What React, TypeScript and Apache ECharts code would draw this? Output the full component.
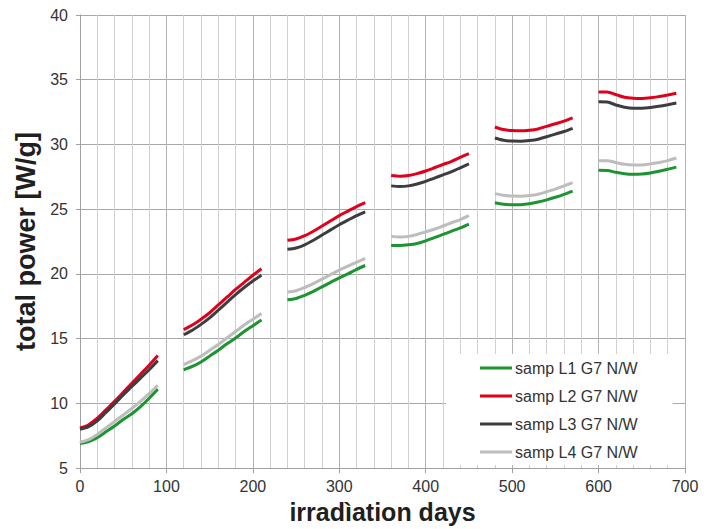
import React, { useEffect, useRef } from "react";
import * as echarts from "echarts";

const segmentStarts = [0, 120, 240, 360, 480, 600];
const segmentOffsets = [0, 10, 20, 30, 40, 50, 60, 70, 80, 90];
const seriesNames = ["samp L1 G7 N/W", "samp L2 G7 N/W", "samp L3 G7 N/W", "samp L4 G7 N/W"];
const seriesColors = ["#1b9431", "#e1001b", "#3d3d3f", "#bdbdbd"];

const L1 = [
  [6.9, 7.05, 7.35, 7.8, 8.25, 8.75, 9.2, 9.75, 10.4, 11.1],
  [12.6, 12.85, 13.2, 13.65, 14.1, 14.6, 15.05, 15.55, 16.0, 16.45],
  [18.0, 18.1, 18.35, 18.65, 19.0, 19.35, 19.7, 20.0, 20.35, 20.65],
  [22.2, 22.2, 22.25, 22.35, 22.55, 22.8, 23.05, 23.3, 23.55, 23.85],
  [25.5, 25.38, 25.34, 25.35, 25.42, 25.55, 25.72, 25.92, 26.15, 26.4],
  [28.0, 27.98, 27.85, 27.74, 27.7, 27.72, 27.8, 27.93, 28.08, 28.25],
];
const L2 = [
  [8.1, 8.35, 8.85, 9.5, 10.15, 10.85, 11.55, 12.25, 12.95, 13.7],
  [15.7, 16.05, 16.5, 17.0, 17.6, 18.2, 18.8, 19.35, 19.9, 20.4],
  [22.6, 22.7, 22.95, 23.3, 23.7, 24.1, 24.5, 24.85, 25.2, 25.5],
  [27.6, 27.55, 27.6, 27.75, 27.95, 28.2, 28.45, 28.7, 29.0, 29.3],
  [31.35, 31.15, 31.07, 31.05, 31.1, 31.2, 31.4, 31.6, 31.8, 32.05],
  [34.05, 34.05, 33.85, 33.65, 33.57, 33.55, 33.6, 33.7, 33.82, 33.95],
];
const L3 = [
  [8.0, 8.2, 8.65, 9.3, 9.95, 10.65, 11.3, 11.95, 12.6, 13.3],
  [15.3, 15.65, 16.1, 16.6, 17.2, 17.8, 18.4, 18.95, 19.45, 19.9],
  [21.9, 22.0, 22.25, 22.6, 23.0, 23.4, 23.8, 24.15, 24.5, 24.8],
  [26.8, 26.75, 26.8, 26.95, 27.15, 27.4, 27.65, 27.9, 28.2, 28.5],
  [30.5, 30.33, 30.26, 30.25, 30.3, 30.4, 30.6, 30.8, 31.0, 31.25],
  [33.3, 33.28, 33.05, 32.88, 32.8, 32.8, 32.85, 32.95, 33.07, 33.2],
];
const L4 = [
  [7.0, 7.2, 7.6, 8.1, 8.6, 9.1, 9.6, 10.15, 10.75, 11.4],
  [13.0, 13.3, 13.65, 14.1, 14.55, 15.05, 15.55, 16.05, 16.5, 16.95],
  [18.6, 18.7, 18.95, 19.25, 19.6, 19.95, 20.3, 20.6, 20.9, 21.2],
  [22.9, 22.85, 22.9, 23.05, 23.25, 23.45, 23.7, 23.95, 24.2, 24.5],
  [26.2, 26.07, 26.01, 26.0, 26.05, 26.15, 26.35, 26.55, 26.8, 27.05],
  [28.75, 28.75, 28.6, 28.47, 28.42, 28.42, 28.5, 28.6, 28.75, 28.95],
];
const allSeries = [L1, L2, L3, L4];

function buildData(segs: number[][]) {
  const out: any[] = [];
  segs.forEach((seg, i) => {
    if (i > 0) out.push([segmentStarts[i] - 15, "-"]);
    seg.forEach((v, j) => out.push([segmentStarts[i] + segmentOffsets[j], v]));
  });
  return out;
}

const FONT = "'Liberation Sans', Arial, sans-serif";

export default function App() {
  const ref = useRef<HTMLDivElement>(null);
  useEffect(() => {
    if (!ref.current) return;
    const chart = echarts.init(ref.current, undefined, { renderer: "svg" });
    chart.setOption({
      animation: false,
      backgroundColor: "#ffffff",
      textStyle: { fontFamily: FONT },
      grid: { left: 80, right: 27, top: 15, bottom: 54, containLabel: false },
      legend: {
        orient: "vertical",
        left: 446,
        top: 354,
        padding: [6, 35, 5, 34],
        backgroundColor: "#ffffff",
        icon: "rect",
        itemWidth: 32,
        itemHeight: 3,
        itemGap: 12,
        data: seriesNames,
        textStyle: { fontSize: 16, color: "#333333", fontFamily: FONT, padding: [0, 0, 0, -2] },
      },
      xAxis: {
        type: "value",
        min: 0,
        max: 700,
        interval: 100,
        name: "irradìation days",
        nameLocation: "middle",
        nameGap: 29,
        nameTextStyle: { fontSize: 25, fontWeight: "bold", color: "#1f1f1f", fontFamily: FONT },
        axisLine: { show: true, lineStyle: { color: "#a0a0a0", width: 1 } },
        axisTick: { show: true, length: 5, lineStyle: { color: "#a0a0a0" } },
        axisLabel: { fontSize: 16, color: "#333333", margin: 10, fontFamily: FONT },
        splitLine: { show: true, lineStyle: { color: "#b4b4b4", width: 1 } },
        minorTick: { show: false, splitNumber: 5 },
        minorSplitLine: { show: true, lineStyle: { color: "#d0d0d0", width: 1 } },
      },
      yAxis: {
        type: "value",
        min: 5,
        max: 40,
        interval: 5,
        name: "total power [W/g]",
        nameLocation: "middle",
        nameGap: 37,
        nameTextStyle: { fontSize: 27, fontWeight: "bold", color: "#1f1f1f", fontFamily: FONT },
        axisLine: { show: true, lineStyle: { color: "#a0a0a0", width: 1 } },
        axisTick: { show: true, length: 4, lineStyle: { color: "#a0a0a0" } },
        axisLabel: { fontSize: 16, color: "#333333", margin: 12, fontFamily: FONT },
        splitLine: { show: true, lineStyle: { color: "#a8a8a8", width: 1 } },
      },
      series: allSeries.map((segs, i) => ({
        name: seriesNames[i],
        type: "line",
        data: buildData(segs),
        smooth: 0.3,
        symbol: "none",
        showSymbol: false,
        connectNulls: false,
        lineStyle: { color: seriesColors[i], width: 3 },
        itemStyle: { color: seriesColors[i] },
      })),
    });
    return () => chart.dispose();
  }, []);
  return (
    <div
      ref={ref}
      style={{ position: "absolute", left: 0, top: 0, width: 712, height: 529 }}
    />
  );
}
